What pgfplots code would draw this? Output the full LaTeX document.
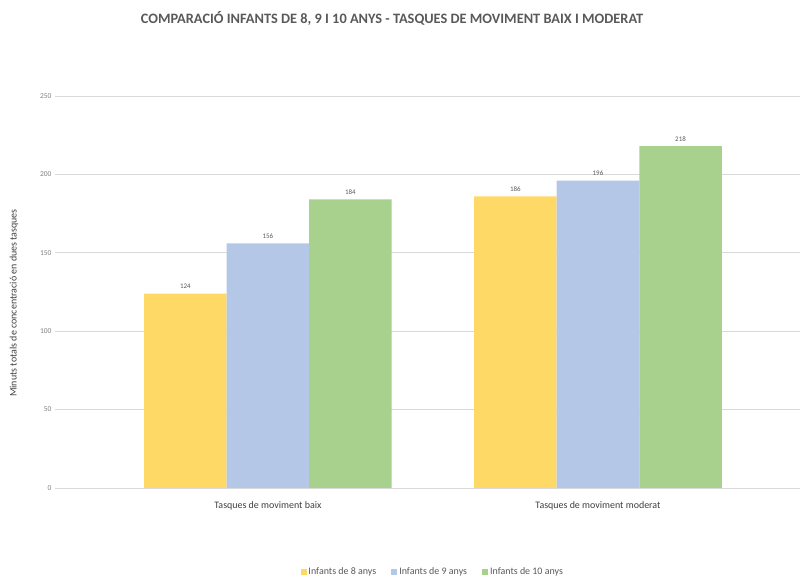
\documentclass[border=0pt]{standalone}
\usepackage{fontspec}
\setmainfont{Carlito}
\usepackage{pgfplots}
\pgfplotsset{compat=1.18}
\definecolor{cy}{HTML}{FFD966}
\definecolor{cb}{HTML}{B4C7E7}
\definecolor{cg}{HTML}{A9D18E}
\definecolor{gridc}{HTML}{D9D9D9}
\definecolor{titc}{HTML}{595959}
\definecolor{labc}{HTML}{404040}
\definecolor{tickc}{HTML}{7F7F7F}
\begin{document}
\begin{tikzpicture}
\useasboundingbox (0,0) rectangle (800bp,578bp);
\node[font=\bfseries\fontsize{14.4}{17}\selectfont, text=titc] at (392bp,560bp) {COMPARACIÓ INFANTS DE 8, 9 I 10 ANYS - TASQUES DE MOVIMENT BAIX I MODERAT};
\node[rotate=90, font=\fontsize{10}{12}\selectfont, text=labc] at (14bp,275bp) {Minuts totals de concentració en dues tasques};
\begin{axis}[
  at={(55bp,90bp)}, anchor=south west,
  scale only axis, width=745bp, height=392bp,
  xmin=-0.645, xmax=1.612, ymin=0, ymax=250,
  ybar, bar width=0.25,
  xtick={0,1}, xticklabels={Tasques de moviment baix, Tasques de moviment moderat},
  ytick={0,50,100,150,200,250},
  ymajorgrids, grid style={draw=gridc, line width=0.8bp},
  axis line style={draw=none}, tick style={draw=none},
  /pgf/number format/assume math mode=true,
  yticklabel style={font=\fontsize{7.5}{9}\selectfont, text=tickc},
  xticklabel style={font=\fontsize{10}{12}\selectfont, text=labc, yshift=-6bp},
  nodes near coords,
  every node near coord/.append style={font=\fontsize{7}{8}\selectfont, text=titc, anchor=south, yshift=1.5bp},
  legend columns=3,
  legend style={at={(0.507,-0.214)}, anchor=center, draw=none, fill=none,
    font=\fontsize{10}{12}\selectfont, text=titc,
    /tikz/every even column/.append style={column sep=13bp}},
  legend image code/.code={\fill[#1] (0bp,-3bp) rectangle (6bp,3bp);},
]
\addplot[fill=cy, draw=none, bar shift=-0.25] coordinates {(0,124) (1,186)};
\addplot[fill=cb, draw=none, bar shift=0] coordinates {(0,156) (1,196)};
\addplot[fill=cg, draw=none, bar shift=0.25] coordinates {(0,184) (1,218)};
\legend{Infants de 8 anys, Infants de 9 anys, Infants de 10 anys}
\end{axis}
\end{tikzpicture}
\end{document}
